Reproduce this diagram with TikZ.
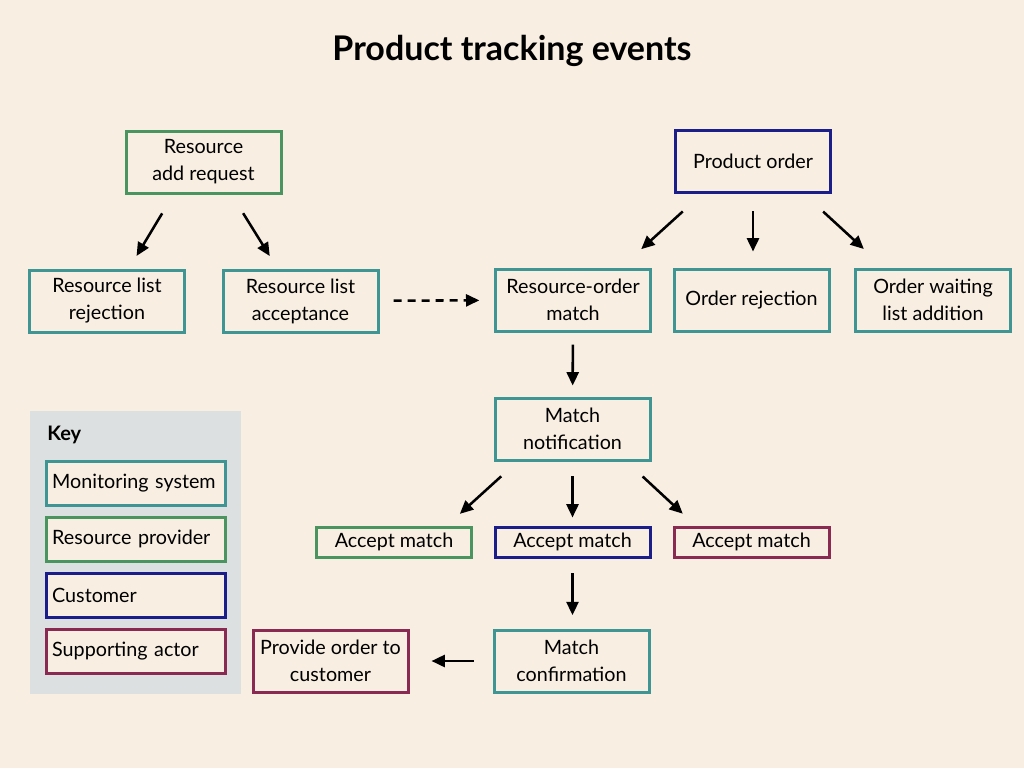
\documentclass[tikz,border=0pt]{standalone}
\usepackage{fontspec}
\setmainfont{Lato}
\usetikzlibrary{arrows.meta, calc}
\definecolor{paper}{HTML}{F8EEE1}
\definecolor{keygray}{HTML}{DDE0E0}
\definecolor{monitor}{HTML}{3F9494}
\definecolor{provider}{HTML}{4A9460}
\definecolor{customer}{HTML}{1B1E8A}
\definecolor{support}{HTML}{8A2A52}
\def\boxw{116.25pt}
\def\boxh{46.5pt}

\begin{document}
\begin{tikzpicture}[x=0.75pt, y=-0.75pt, >={Triangle[length=10pt,width=9pt]}]
    \tikzstyle{event}=[rectangle, draw, line width=2.25pt, fill=paper, align=center,
        minimum width=\boxw, minimum height=\boxh, inner sep=2pt,
        font=\fontsize{14.8}{20.25}\selectfont]
    \tikzstyle{monitor event}=[event, draw=monitor]
    \tikzstyle{provider event}=[event, draw=provider]
    \tikzstyle{customer event}=[event, draw=customer]
    \tikzstyle{support event}=[event, draw=support]
    \tikzstyle{short event}=[minimum height=22.5pt]
    \tikzstyle{key entry}=[event, minimum width=134.25pt, minimum height=33pt,
        text width=125pt, align=left, inner xsep=4.5pt]
    \tikzstyle{flow}=[->, line width=1.9pt, black]

    % background and title
    \fill[paper] (0,0) rectangle (1024,768);
    \node[font=\bfseries\fontsize{25.5}{30}\selectfont] (title) at (512,51) {Product tracking events};

    % resource side
    \node[provider event] (add) at (203.5,162) {Resource\\add request};
    \node[monitor event] (rej) at (107,301) {Resource list\\rejection};
    \node[monitor event] (acc) at (300.5,301) {Resource list\\acceptance};

    % order side
    \node[customer event] (order) at (753,161.5) {Product order};
    \node[monitor event] (match) at (573,300) {Resource-order\\match};
    \node[monitor event] (orej) at (751.5,300) {Order rejection};
    \node[monitor event] (wait) at (933,300) {Order waiting\\list addition};

    % matching
    \node[monitor event] (notif) at (572.5,429) {Match\\notification};
    \node[provider event, short event] (am-p) at (394,542) {Accept match};
    \node[customer event, short event] (am-c) at (572.5,542) {Accept match};
    \node[support event, short event] (am-s) at (751.5,542) {Accept match};
    \node[monitor event] (conf) at (571.5,661) {Match\\confirmation};
    \node[support event] (provide) at (330.5,661) {Provide order to\\customer};

    % connectors
    \draw[flow, shorten <=16.5pt, shorten >=11pt] ($(add.south)+(-30,0)$) -- ($(rej.north)+(22,0)$);
    \draw[flow, shorten <=16.5pt, shorten >=11pt] ($(add.south)+(28,0)$) -- ($(acc.north)+(-23,0)$);
    \draw[flow, dashed, dash pattern=on 6pt off 4.5pt, shorten <=10.5pt, shorten >=11pt] (acc) -- (match);
    \draw[flow, shorten <=19.5pt, shorten >=20.5pt] ($(order.south)+(-51,0)$) -- ($(match.north)+(48,0)$);
    \draw[flow, shorten <=13pt, shorten >=12pt] (order.south) -- (order.south |- orej.north);
    \draw[flow, shorten <=19.5pt, shorten >=20.5pt] ($(order.south)+(51,0)$) -- ($(wait.north)+(-49,0)$);
    \draw[flow, shorten <=9pt, shorten >=8.25pt] (match) -- (notif);
    \draw[flow, shorten <=16.5pt, shorten >=13pt] ($(notif.south)+(-55,0)$) -- ($(am-p.north)+(53,0)$);
    \draw[flow, shorten <=11pt, shorten >=6pt] (notif) -- (am-c);
    \draw[flow, shorten <=16.5pt, shorten >=13pt] ($(notif.south)+(54,0)$) -- ($(am-s.north)+(-56,0)$);
    \draw[flow, shorten <=11pt, shorten >=10pt] (am-c) -- (am-c |- conf.north);
    \draw[flow, shorten <=14pt, shorten >=16.5pt] (conf) -- (provide);

    % key
    \fill[keygray] (30,411) rectangle (241,694);
    \node[anchor=west, inner sep=0pt, font=\bfseries\fontsize{15}{18}\selectfont] (key) at (47,435) {Key};
    \foreach \name/\kind/\y/\label in {km/monitor/483/Monitoring system, kp/provider/539/Resource provider,
        kc/customer/595/Customer, ks/support/651/Supporting actor}
        \node[key entry, draw=\kind] (\name) at (135.5,\y) {\label};
\end{tikzpicture}
\end{document}
